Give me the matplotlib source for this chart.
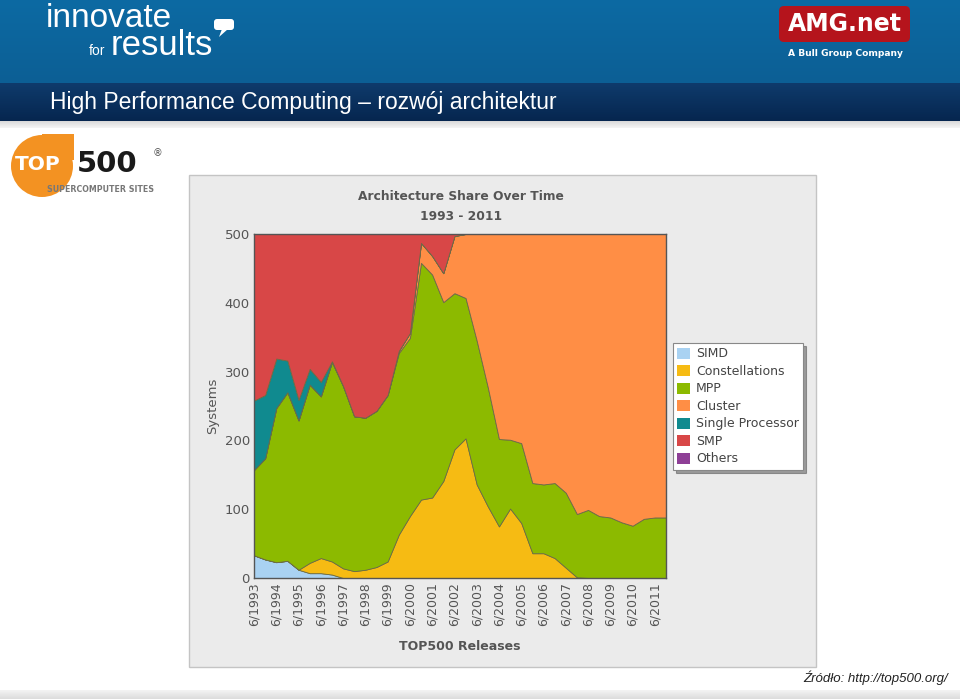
import matplotlib
matplotlib.use("Agg")
import matplotlib.pyplot as plt
import numpy as np
from matplotlib.patches import Rectangle, FancyBboxPatch, Circle, Polygon

# TOP500 releases, twice a year, 6/1993 .. 11/2011
releases = [f"{m}/{y}" for y in range(1993, 2012) for m in (6, 11)]
tick_labels = [r for r in releases if r.startswith("6/")]

simd = [33, 27, 23, 25, 12, 7, 7, 5, 0, 0, 0, 0, 0, 0, 0, 0, 0, 0, 0,
        0, 0, 0, 0, 0, 0, 0, 0, 0, 0, 0, 0, 0, 0, 0, 0, 0, 0, 0]
constellations = [0, 0, 0, 0, 0, 15, 22, 19, 14, 10, 12, 16, 24, 63, 90, 114, 117, 141, 187,
                  203, 136, 104, 75, 101, 80, 36, 36, 29, 15, 1, 0, 0, 0, 0, 0, 0, 0, 0]
mpp = [124, 147, 224, 245, 217, 259, 235, 290, 265, 225, 221, 227, 242, 264, 259, 344, 324, 260, 227,
       204, 209, 173, 127, 100, 116, 102, 100, 109, 109, 92, 99, 90, 88, 81, 76, 86, 88, 88]
cluster = [0, 0, 0, 0, 0, 0, 0, 0, 0, 0, 0, 0, 0, 3, 7, 29, 27, 42, 83,
           93, 155, 223, 298, 299, 304, 362, 364, 362, 376, 407, 401, 410, 412, 419, 424, 414, 412, 412]
single_proc = [101, 92, 72, 46, 30, 23, 21, 1, 0, 0, 0, 0, 0, 0, 0, 0, 0, 0, 0,
               0, 0, 0, 0, 0, 0, 0, 0, 0, 0, 0, 0, 0, 0, 0, 0, 0, 0, 0]
smp = [242, 234, 181, 184, 241, 196, 215, 185, 221, 265, 267, 257, 234, 170, 144, 13, 32, 57, 3,
       0, 0, 0, 0, 0, 0, 0, 0, 0, 0, 0, 0, 0, 0, 0, 0, 0, 0, 0]
others = [0] * 38

series_names = ["SIMD", "Constellations", "MPP", "Cluster", "Single Processor", "SMP", "Others"]
series_colors = ["#a9d2f2", "#f6bb13", "#8cba00", "#ff8e45", "#108a8f", "#d84747", "#8e3f96"]

W, H = 960, 699


def box(x0, y0, x1, y1):
    # pixel box (top-left origin) -> figure fraction rect
    return [x0 / W, 1 - y1 / H, (x1 - x0) / W, (y1 - y0) / H]


def band(a, top, bottom, c1, c2):
    cmap = matplotlib.colors.LinearSegmentedColormap.from_list("g", [c1, c2])
    a.imshow(np.linspace(0, 1, 100).reshape(-1, 1), extent=(0, W, bottom, top),
             cmap=cmap, aspect="auto", zorder=1)


fig = plt.figure(figsize=(9.6, 6.99), dpi=100)
fig.patch.set_facecolor("white")

# slide background layer, pixel coordinates
bg = fig.add_axes([0, 0, 1, 1])
bg.axis("off")
band(bg, 0, 83, "#0c6aa3", "#0d5f95")
band(bg, 83, 121, "#0f3b6c", "#06264f")
band(bg, 121, 128, "#d9d9d9", "#f6f6f6")
band(bg, 690, 699, "#f4f4f4", "#dcdcdc")
bg.set_xlim(0, W)
bg.set_ylim(H, 0)

bg.text(50, 102, "High Performance Computing \u2013 rozwój architektur", color="white",
        fontsize=16.5, family="Liberation Sans", va="center", ha="left", zorder=3)

# innovate for results logo
bg.text(46, 27, "innovate", color="white", fontsize=24, family="Liberation Sans",
        va="baseline", ha="left", zorder=3)
bg.text(89, 55, "for", color="white", fontsize=10, family="Liberation Sans",
        va="baseline", ha="left", zorder=3)
bg.text(111, 55, "results", color="white", fontsize=25, family="Liberation Sans",
        va="baseline", ha="left", zorder=3)
bg.add_patch(FancyBboxPatch((214, 19), 20, 11, boxstyle="round,pad=0,rounding_size=3",
                            fc="white", ec="none", zorder=3))
bg.add_patch(Polygon([[222, 29], [228, 29], [219, 37]], closed=True, fc="white", ec="none", zorder=3))

# AMG.net logo
bg.add_patch(FancyBboxPatch((779, 6), 131, 36, boxstyle="round,pad=0,rounding_size=5",
                            fc="#b5141c", ec="none", zorder=3))
bg.text(845, 24, "AMG.net", color="white", fontsize=17, fontweight="bold",
        family="DejaVu Sans", va="center", ha="center", zorder=4)
bg.text(845, 53, "A Bull Group Company", color="white", fontsize=6.6, fontweight="bold",
        family="DejaVu Sans", va="center", ha="center", zorder=4)

# TOP500 logo
bg.add_patch(Circle((42, 166), 31, fc="#f39222", ec="none", zorder=3))
bg.add_patch(Rectangle((42, 134), 32, 26, fc="#f39222", ec="none", zorder=3))
bg.text(15, 164, "TOP", color="white", fontsize=14.5, fontweight="bold",
        family="DejaVu Sans", va="center", ha="left", zorder=4)
bg.text(77, 164, "500", color="#1a1a1a", fontsize=21, fontweight="bold",
        family="DejaVu Sans", va="center", ha="left", zorder=4)
bg.text(47, 189, "SUPERCOMPUTER SITES", color="#777777", fontsize=5.7, fontweight="bold",
        family="DejaVu Sans Condensed", va="center", ha="left", zorder=4)
bg.text(158, 153, "\u00ae", color="#555555", fontsize=7, va="center", ha="center", zorder=4)

# chart picture background
bg.add_patch(Rectangle((189, 175), 627, 492, fc="#ebebeb", ec="#c4c4c4", lw=1, zorder=2))

bg.text(948, 678, "Źródło: http://top500.org/", color="#222222", fontsize=9.5, style="italic",
        family="Liberation Sans", va="center", ha="right", zorder=3)

# the chart
ax = fig.add_axes(box(254, 234, 666, 578))
x = np.arange(len(releases))
polys = ax.stackplot(x, simd, constellations, mpp, cluster, single_proc, smp, others,
                     colors=series_colors, labels=series_names,
                     edgecolor="#6b6b45", linewidth=0.6)
ax.set_xlim(0, len(releases) - 1)
ax.set_ylim(0, 500)
ax.set_facecolor("white")
for s in ax.spines.values():
    s.set_color("#555555")
    s.set_linewidth(1)
ax.set_yticks(range(0, 501, 100))
ax.set_xticks(x[::2])
ax.set_xticklabels(tick_labels, rotation=90, fontsize=9, color="#555555", family="DejaVu Sans")
ax.tick_params(axis="y", length=0, pad=3, labelsize=9.5, labelcolor="#555555")
ax.tick_params(axis="x", length=0, pad=3)
ax.set_ylabel("Systems", fontsize=9.5, color="#555555", labelpad=4)
ax.set_xlabel("TOP500 Releases", fontsize=9, color="#555555", fontweight="bold", labelpad=10)

bg.text(461, 197, "Architecture Share Over Time", color="#555555", fontsize=8.8,
        fontweight="bold", family="DejaVu Sans", va="center", ha="center", zorder=3)
bg.text(461, 216, "1993 - 2011", color="#555555", fontsize=8.8,
        fontweight="bold", family="DejaVu Sans", va="center", ha="center", zorder=3)

leg = fig.legend(handles=polys, labels=series_names, loc="upper left",
                 bbox_to_anchor=(673 / W, 1 - 343 / H), fontsize=9, frameon=True,
                 fancybox=False, shadow=True, handlelength=1.0, handleheight=1.0,
                 handletextpad=0.5, labelspacing=0.36, borderpad=0.35, borderaxespad=0)
leg.get_frame().set_edgecolor("#888888")
leg.get_frame().set_linewidth(0.8)
for t in leg.get_texts():
    t.set_color("#444444")
for h in leg.legend_handles:
    h.set_edgecolor("none")

fig.savefig("out.png", dpi=100)
